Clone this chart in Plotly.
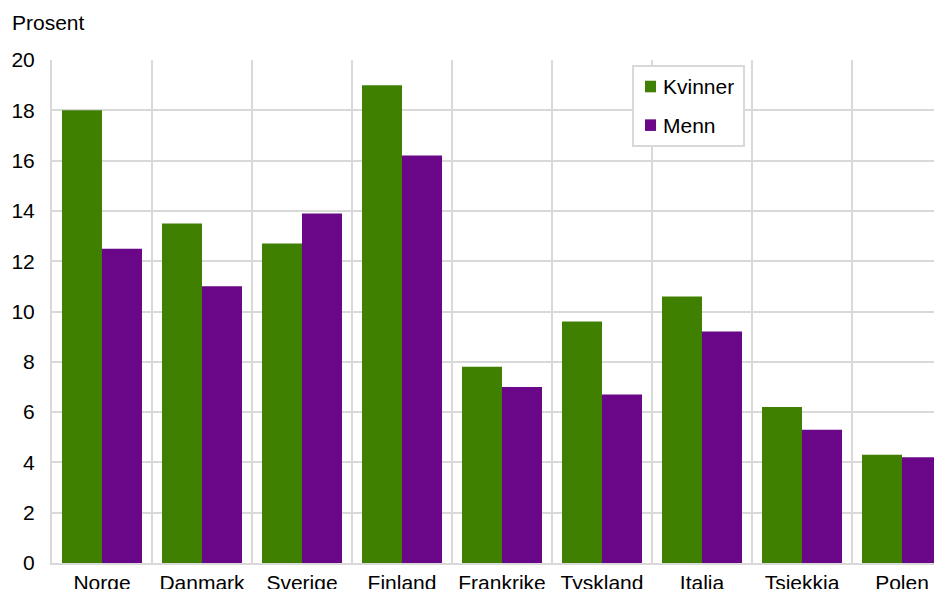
import plotly.graph_objects as go

categories = ["Norge", "Danmark", "Sverige", "Finland", "Frankrike", "Tyskland", "Italia", "Tsjekkia", "Polen"]
kvinner = [18.0, 13.5, 12.7, 19.0, 7.8, 9.6, 10.6, 6.2, 4.3]
menn = [12.5, 11.0, 13.9, 16.2, 7.0, 6.7, 9.2, 5.3, 4.2]
y_ticks = [0, 2, 4, 6, 8, 10, 12, 14, 16, 18, 20]
series_names = ["Kvinner", "Menn"]

GREEN = "#3F8000"
PURPLE = "#690788"
GRID = "#D9D9D9"
FONT = "Liberation Sans, Arial, sans-serif"
FS = 21

fig = go.Figure()
fig.add_trace(go.Bar(x=categories, y=kvinner, name=series_names[0], marker_color=GREEN,
                     marker_line_width=0))
fig.add_trace(go.Bar(x=categories, y=menn, name=series_names[1], marker_color=PURPLE,
                     marker_line_width=0))

# Custom legend (decoration) in paper coordinates
shapes = [dict(type="rect", xref="paper", yref="paper", x0=0.6528, x1=0.7775, y0=0.829, y1=0.9881,
               line=dict(color=GRID, width=2), fillcolor="white", layer="above")]
legend_rows = [(0.9473, GREEN), (0.8705, PURPLE)]
annotations = []
for name, (cy, col) in zip(series_names, legend_rows):
    shapes.append(dict(type="rect", xref="paper", yref="paper", x0=0.6663, x1=0.6787,
                       y0=cy - 0.0115, y1=cy + 0.0115, line=dict(width=0), fillcolor=col, layer="above"))
    annotations.append(dict(text=name, xref="paper", yref="paper", x=0.6843, y=cy,
                            xanchor="left", yanchor="middle", showarrow=False,
                            font=dict(size=FS)))
annotations.append(dict(text="Prosent", xref="paper", yref="paper", x=-0.0472, y=1.0755,
                        xanchor="left", yanchor="middle", showarrow=False, font=dict(size=FS)))

fig.update_layout(
    width=942, height=589,
    margin=dict(l=44, r=8, t=52, b=34),
    paper_bgcolor="white", plot_bgcolor="white",
    font=dict(family=FONT, size=FS, color="#000000"),
    barmode="group", bargap=0.2, bargroupgap=0,
    showlegend=False,
    xaxis=dict(type="category", range=[-0.5, 8.4], tickson="boundaries",
               showgrid=True, gridcolor=GRID, gridwidth=2,
               showline=True, linecolor=GRID, linewidth=2,
               ticks="", ticklen=0, ticklabelstandoff=0, automargin=False),
    yaxis=dict(range=[0, 20], tickvals=y_ticks, showgrid=True, gridcolor=GRID, gridwidth=2,
               showline=True, linecolor=GRID, linewidth=2, zeroline=False,
               ticks="", ticklabelstandoff=11, automargin=False),
    shapes=shapes,
    annotations=annotations,
)

fig.write_html("out.html")
